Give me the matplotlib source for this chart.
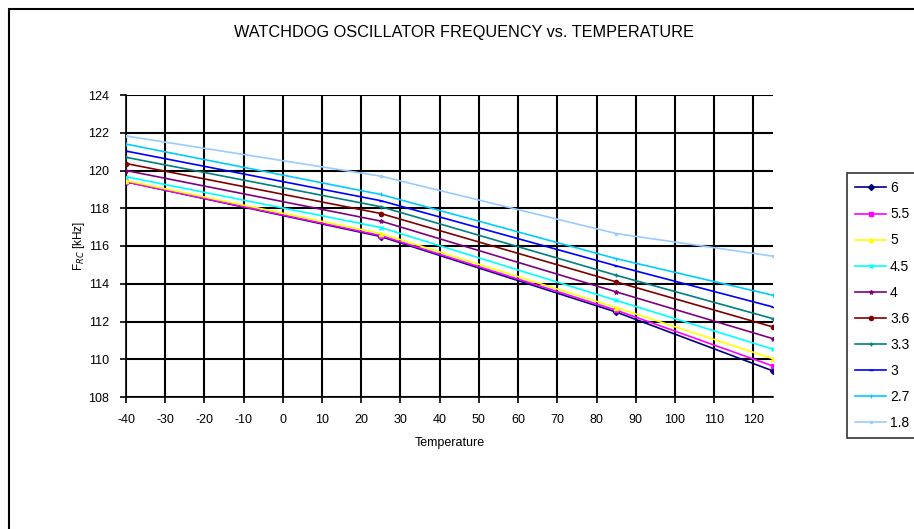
import numpy as np
import matplotlib.pyplot as plt
from matplotlib.patches import Rectangle

plt.rcParams['font.family'] = ['Liberation Sans', 'DejaVu Sans']
plt.rcParams['axes.unicode_minus'] = False

temps = [-40, 25, 85, 125]

# supply voltage -> frequency (kHz) at each temperature
labels = ['6', '5.5', '5', '4.5', '4', '3.6', '3.3', '3', '2.7', '1.8']
f_6 = [119.40, 116.50, 112.50, 109.38]
f_55 = [119.40, 116.55, 112.60, 109.64]
f_5 = [119.46, 116.66, 112.74, 110.03]
f_45 = [119.67, 116.98, 113.12, 110.53]
f_4 = [120.00, 117.32, 113.57, 111.09]
f_36 = [120.37, 117.72, 114.10, 111.71]
f_33 = [120.70, 118.08, 114.45, 112.15]
f_3 = [121.03, 118.40, 114.95, 112.77]
f_27 = [121.40, 118.73, 115.33, 113.39]
f_18 = [121.83, 119.70, 116.66, 115.46]

series = [f_6, f_55, f_5, f_45, f_4, f_36, f_33, f_3, f_27, f_18]
colors = ['#000080', '#FF00FF', '#FFFF00', '#00FFFF', '#800080',
          '#800000', '#008080', '#0000FF', '#00CCFF', '#99CCFF']
markers = ['D', 's', '^', 'x', '*', 'o', '+', '_', '|', '.']

fig = plt.figure(figsize=(9.14, 5.29), dpi=100)
fig.patches.append(Rectangle((9 / 914, -0.1), 1.2, 1 - 9 / 529 + 0.1,
                             transform=fig.transFigure, fill=False,
                             edgecolor='black', linewidth=1.5, zorder=0))

ax = fig.add_axes([126 / 914, 1 - 397 / 529, (773 - 126) / 914, (397 - 95) / 529])

for lab, vals, c, m in zip(labels, series, colors, markers):
    ax.plot(temps, vals, color=c, marker=m, markersize=3, linewidth=1.2,
            label=lab, zorder=3)

ax.set_xlim(-40, 125)
ax.set_ylim(108, 124)
ax.set_xticks(np.arange(-40, 121, 10))
ax.set_yticks(np.arange(108, 125, 2))
ax.grid(True, color='black', linewidth=1.5)
ax.set_axisbelow(True)
for s in ['top', 'right']:
    ax.spines[s].set_visible(False)
for s in ['left', 'bottom']:
    ax.spines[s].set_linewidth(1.2)
ax.tick_params(direction='out', length=4, width=1.2, labelsize=9, pad=8)

ax.set_xlabel('Temperature', fontsize=9, labelpad=8)
ax.set_ylabel(r'F$_{RC}$ [kHz]', fontsize=8.5, labelpad=1)

fig.text(464 / 914, 1 - 32 / 529, 'WATCHDOG OSCILLATOR FREQUENCY vs. TEMPERATURE',
         ha='center', va='center', fontsize=11.7)

leg = ax.legend(loc='upper left', bbox_to_anchor=(847 / 914, 1 - 173 / 529),
                bbox_transform=fig.transFigure, borderaxespad=0, fontsize=10,
                frameon=True, fancybox=False, handlelength=2.2,
                labelspacing=0.87, handletextpad=0.3, borderpad=0.6)
leg.get_frame().set_edgecolor('black')
leg.get_frame().set_linewidth(1.2)

fig.savefig('out.png', dpi=100)
